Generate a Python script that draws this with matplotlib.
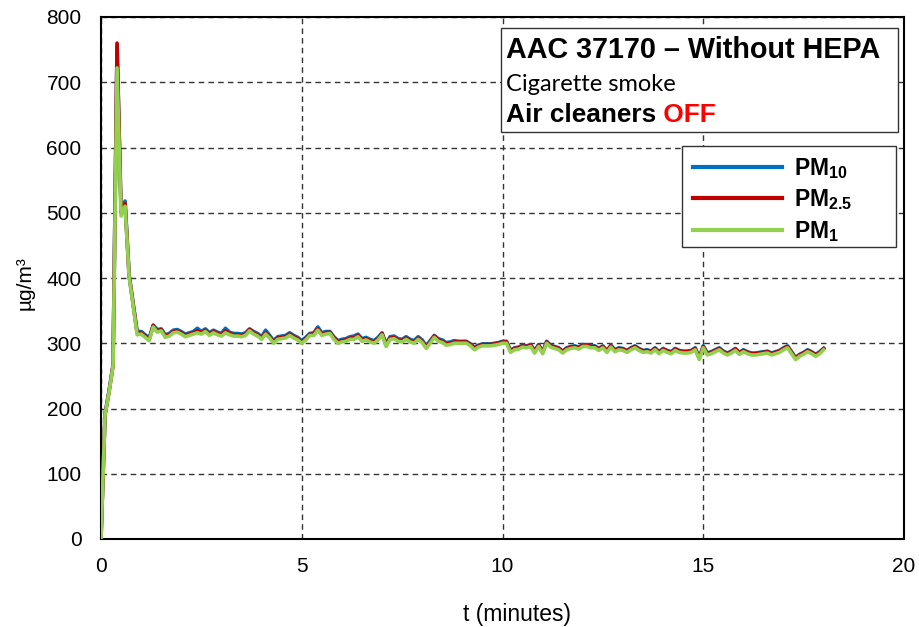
import numpy as np
import matplotlib
matplotlib.use("Agg")
import matplotlib.pyplot as plt
from matplotlib.patches import Rectangle

plt.rcParams["font.family"] = ["Liberation Sans", "DejaVu Sans"]
plt.rcParams["mathtext.fontset"] = "custom"
plt.rcParams["mathtext.rm"] = "Liberation Sans"
plt.rcParams["mathtext.bf"] = "Liberation Sans:bold"
plt.rcParams["mathtext.it"] = "Liberation Sans:italic"

# Concentrations (µg/m³), one reading every 6 s (0.1 min)
sample_step_min = 0.1

pm1 = [
    0, 190, 225, 265, 722, 495, 510, 402, 358, 313,
    314, 309, 304, 325, 317, 319, 309, 311, 316, 317,
    314, 310, 312, 314, 316, 314, 318, 312, 316, 313,
    311, 316, 313, 311, 311, 310, 312, 319, 314, 311,
    306, 314, 308, 300, 306, 307, 308, 312, 308, 305,
    300, 305, 312, 312, 320, 312, 314, 315, 306, 300,
    302, 303, 306, 306, 310, 303, 305, 302, 300, 305,
    313, 295, 306, 307, 303, 302, 306, 302, 300, 306,
    301, 292, 300, 309, 303, 301, 297, 298, 300, 300,
    300, 300, 296, 290, 294, 296, 296, 296, 297, 298,
    300, 300, 286, 290, 291, 294, 293, 295, 285, 295,
    284, 300, 294, 292, 290, 285, 290, 292, 293, 291,
    295, 295, 293, 293, 289, 293, 286, 294, 287, 290,
    289, 286, 290, 293, 289, 286, 287, 285, 290, 284,
    289, 286, 284, 289, 286, 285, 285, 286, 290, 275,
    293, 282, 284, 287, 290, 285, 282, 285, 289, 283,
    287, 284, 282, 282, 283, 284, 285, 282, 284, 286,
    290, 293, 284, 275, 280, 283, 287, 284, 280, 284,
    290,
]

pm25 = [
    0, 190, 226, 266, 760, 500, 514, 404, 360, 316,
    316, 311, 306, 327, 319, 321, 311, 313, 318, 319,
    316, 312, 314, 316, 319, 316, 320, 314, 318, 315,
    313, 319, 315, 313, 313, 312, 314, 321, 316, 313,
    308, 316, 310, 302, 308, 309, 310, 314, 310, 307,
    302, 307, 314, 314, 322, 314, 316, 317, 308, 302,
    304, 305, 308, 308, 312, 305, 307, 304, 302, 307,
    315, 297, 308, 309, 305, 304, 308, 304, 302, 308,
    303, 294, 302, 311, 305, 303, 299, 300, 302, 302,
    302, 302, 298, 292, 296, 298, 298, 298, 299, 300,
    302, 302, 288, 292, 293, 296, 295, 297, 287, 297,
    286, 302, 296, 294, 292, 287, 292, 294, 295, 293,
    297, 297, 295, 295, 291, 295, 288, 296, 289, 292,
    291, 288, 292, 295, 291, 288, 289, 287, 292, 286,
    291, 288, 286, 291, 288, 287, 287, 288, 292, 277,
    295, 284, 286, 289, 292, 287, 284, 287, 291, 285,
    289, 286, 284, 284, 285, 286, 287, 284, 286, 288,
    292, 295, 286, 277, 282, 285, 289, 286, 282, 286,
    292,
]

pm10 = [
    0, 191, 227, 267, 757, 502, 518, 405, 361, 318,
    318, 313, 308, 328, 321, 322, 313, 315, 320, 321,
    318, 314, 316, 318, 323, 318, 322, 316, 320, 317,
    315, 323, 317, 315, 315, 314, 316, 322, 318, 315,
    310, 320, 312, 304, 310, 311, 312, 316, 312, 309,
    304, 309, 315, 316, 325, 316, 318, 318, 310, 304,
    306, 307, 310, 311, 314, 307, 309, 306, 304, 309,
    316, 299, 310, 311, 307, 306, 310, 306, 304, 310,
    305, 296, 304, 312, 307, 305, 301, 302, 304, 303,
    303, 303, 299, 294, 297, 299, 299, 299, 300, 301,
    303, 303, 289, 293, 294, 297, 296, 298, 289, 298,
    287, 303, 297, 295, 293, 288, 293, 295, 296, 294,
    298, 298, 296, 296, 292, 296, 289, 297, 290, 293,
    292, 289, 293, 296, 292, 289, 290, 288, 293, 287,
    292, 289, 287, 292, 289, 288, 288, 289, 293, 278,
    296, 285, 287, 290, 293, 288, 285, 288, 292, 286,
    290, 287, 285, 285, 286, 287, 288, 285, 287, 289,
    293, 296, 287, 278, 283, 286, 290, 287, 283, 287,
    292,
]

series_labels = [r"$\mathbf{PM_{10}}$", r"$\mathbf{PM_{2.5}}$", r"$\mathbf{PM_{1}}$"]
series_colors = ["#0070C0", "#C00000", "#92D050"]

x_ticks = [0, 5, 10, 15, 20]
y_ticks = [0, 100, 200, 300, 400, 500, 600, 700, 800]

title_line = "AAC 37170 \u2013 Without HEPA"
subtitle_line = "Cigarette smoke"
status_line = "Air cleaners"
status_word = " OFF"

W, H = 920, 627
fig = plt.figure(figsize=(W / 100, H / 100), dpi=100)
ax_left, ax_right, ax_bottom, ax_top = 101, 904, 539, 17
ax = fig.add_axes([ax_left / W, 1 - ax_bottom / H,
                   (ax_right - ax_left) / W, (ax_bottom - ax_top) / H])


def fx(px):
    return px / W


def fy(py):
    return 1 - py / H


t = np.arange(len(pm1)) * sample_step_min
for vals, lab, col in zip([pm10, pm25, pm1], series_labels, series_colors):
    ax.plot(t[:len(vals)], vals, color=col, lw=2.6, label=lab,
            solid_joinstyle="round", zorder=3)

ax.set_xlim(0, 20)
ax.set_ylim(0, 800)
ax.set_xticks(x_ticks)
ax.set_yticks(y_ticks)
ax.tick_params(axis="both", length=0, labelsize=15)
ax.tick_params(axis="y", pad=14)
ax.tick_params(axis="x", pad=13)
ax.grid(True, color="#333333", linestyle=(0, (4, 3)), linewidth=1.0, zorder=1)
for sp in ax.spines.values():
    sp.set_linewidth(1.5)
    sp.set_color("black")

ax.set_xlabel("t (minutes)", fontsize=16.5)
ax.xaxis.set_label_coords(0.518, -0.123)
ax.set_ylabel("\u00b5g/m\u00b3", fontsize=15)
ax.yaxis.set_label_coords(-0.083, 0.49)

# Annotation box in the upper right
bx0, bx1, by0, by1 = 501, 898, 28, 132
fig.patches.append(Rectangle((fx(bx0), fy(by1)), (bx1 - bx0) / W, (by1 - by0) / H,
                             transform=fig.transFigure, facecolor="white",
                             edgecolor="#333333", linewidth=1.0, zorder=5))
fig.text(fx(506), fy(58), title_line, fontsize=20.7, fontweight="bold",
         va="baseline", ha="left", zorder=6)
fig.text(fx(506), fy(91), subtitle_line, fontsize=17, family=["Lato", "DejaVu Sans"],
         va="baseline", ha="left", zorder=6)
st = fig.text(fx(506), fy(122), status_line, fontsize=18.9, fontweight="bold",
              va="baseline", ha="left", zorder=6)
fig.canvas.draw()
st_box = st.get_window_extent(renderer=fig.canvas.get_renderer())
fig.text(st_box.x1 / W, fy(122), status_word, fontsize=18.9, fontweight="bold",
         color="#FF0000", va="baseline", ha="left", zorder=6)

# Legend box with its own frame (wider than its entries)
lx0, lx1, ly0, ly1 = 682, 896, 146, 247
ax.add_patch(Rectangle((fx(lx0), fy(ly1)), (lx1 - lx0) / W, (ly1 - ly0) / H,
                       transform=fig.transFigure, facecolor="white",
                       edgecolor="#333333", linewidth=1.0, zorder=4, clip_on=False))
leg = ax.legend(loc="upper left", bbox_to_anchor=(fx(lx0 + 4), fy(ly0 + 3)),
                bbox_transform=fig.transFigure, borderaxespad=0, fontsize=16.5,
                handlelength=3.9, handletextpad=0.5, borderpad=0.3,
                labelspacing=0.29, frameon=False)
leg.set_zorder(5)
for line in leg.get_lines():
    line.set_linewidth(3.0)

fig.savefig("out.png", dpi=100, facecolor="white")
